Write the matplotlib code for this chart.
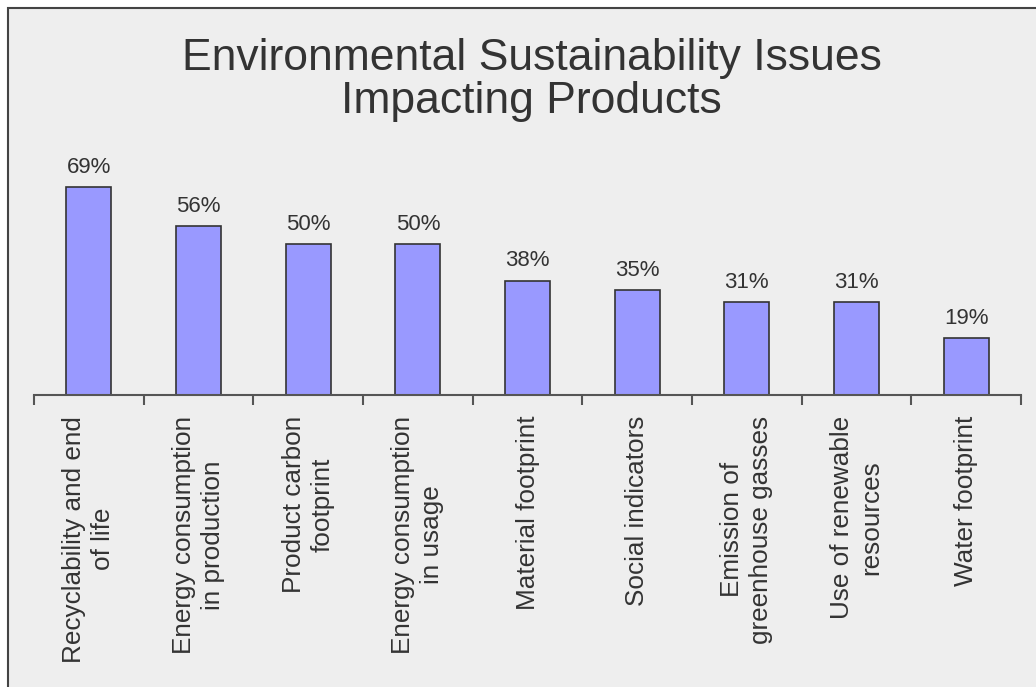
import numpy as np
import matplotlib.pyplot as plt
from matplotlib.patches import Rectangle

categories = ['Recyclability and end\nof life', 'Energy consumption\nin production',
              'Product carbon\nfootprint', 'Energy consumption\nin usage',
              'Material footprint', 'Social indicators',
              'Emission of\ngreenhouse gasses', 'Use of renewable\nresources',
              'Water footprint']
values = [69, 56, 50, 50, 38, 35, 31, 31, 19]

plt.rcParams['font.family'] = ['Liberation Sans', 'DejaVu Sans']
txt = '#333333'

fig = plt.figure(figsize=(10.36, 6.87), dpi=100)
fig.patch.set_facecolor('white')
# grey panel with a border; right and bottom edges run off the picture
fig.add_artist(Rectangle((8 / 1036, -0.1), 1.2, 1 - 8 / 687 + 0.1,
                         transform=fig.transFigure, facecolor='#eeeeee',
                         edgecolor='#444444', lw=1.5, zorder=0))

ax = fig.add_axes([34 / 1036, 292 / 687, 987 / 1036, 241 / 687])
ax.set_facecolor('none')
x = np.arange(len(values))
bars = ax.bar(x, values, width=0.41, color='#9999ff', edgecolor='#333333', lw=1.2)
for b, v in zip(bars, values):
    ax.text(b.get_x() + b.get_width() / 2, v + 3, f'{v}%', ha='center', va='bottom',
            fontsize=16, color=txt)

ax.set_xlim(-0.5, len(values) - 0.5)
ax.set_ylim(0, 80)
for s in ['top', 'right', 'left']:
    ax.spines[s].set_visible(False)
ax.spines['bottom'].set_color('#555555')
ax.spines['bottom'].set_linewidth(1.5)
ax.set_yticks([])
ax.set_xticks(np.arange(len(values) + 1) - 0.5)
ax.set_xticklabels([])
ax.tick_params(axis='x', which='major', direction='out', length=7, width=1.5, color='#555555')
ax.set_xticks(x, minor=True)
ax.set_xticklabels(categories, minor=True, rotation=90, fontsize=18.8, color=txt,
                   ha='center', va='top', multialignment='center', linespacing=1.25)
ax.tick_params(axis='x', which='minor', length=0, pad=15)

fig.text(0.513, 1 - 80 / 687, 'Environmental Sustainability Issues\nImpacting Products',
         ha='center', va='center', fontsize=32, color=txt, linespacing=1.05)

fig.savefig('out.png', dpi=100)
